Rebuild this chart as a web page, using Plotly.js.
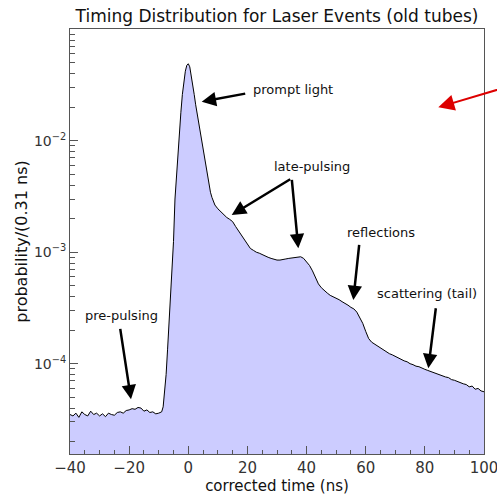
<!DOCTYPE html>
<html>
<head>
<meta charset="utf-8">
<script src="https://cdn.plot.ly/plotly-3.0.1.min.js"></script>
<style>html,body{margin:0;padding:0;background:#fff;}</style>
</head>
<body>
<div id="chart" style="width:497px;height:496px;"></div>
<script>
// corrected time (ns)
const timeNs = [
  -40,-39,-38,-37,-36,-35,-34,-33,-32,-31,-30,-29,-28,-27,-26,-25,-24,-23,-22,-21,
  -20,-19,-18,-17,-16,-15,-14,-13,-12,-11,-10,-9,
  -8.5,-8,-7.5,-7,-6.5,-6,-5.5,-5,-4.5,-4,-3.5,-3,-2.5,-2,-1.5,-1,-0.5,0,
  0.5,1,1.5,2,2.5,3,3.5,4,4.5,5,5.5,6,6.5,7,7.5,8,8.5,9,
  10,11,12,13,14,15,16,17,18,19,20,21,22,23,24,25,26,27,28,29,30,
  31,32,33,34,35,36,37,38,39,40,41,42,43,44,45,46,47,48,49,50,
  51,52,53,54,55,56,57,58,59,60,61,62,63,64,65,66,67,68,69,70,
  71,72,73,74,75,76,77,78,79,80,81,82,83,84,85,86,87,88,89,90,
  91,92,93,94,95,96,97,98,99,100
];
// probability per 0.31 ns bin
const probability = [
  3.5e-5,3.4e-5,3.6e-5,3.3e-5,3.7e-5,3.5e-5,3.4e-5,3.75e-5,3.5e-5,3.6e-5,3.4e-5,3.55e-5,3.35e-5,3.6e-5,3.5e-5,3.45e-5,3.65e-5,3.7e-5,3.6e-5,3.8e-5,
  3.85e-5,3.95e-5,3.9e-5,4.05e-5,4.0e-5,3.75e-5,3.85e-5,3.65e-5,3.7e-5,3.55e-5,3.6e-5,3.7e-5,
  4.1e-5,5.4e-5,8.0e-5,1.35e-4,2.35e-4,3.9e-4,6.8e-4,1.25e-3,3.0e-3,5.0e-3,7.6e-3,1.15e-2,1.8e-2,2.6e-2,3.5e-2,4.2e-2,4.75e-2,4.9e-2,
  4.6e-2,3.9e-2,3.3e-2,2.6e-2,2.1e-2,1.75e-2,1.5e-2,1.25e-2,1.03e-2,8.5e-3,7.0e-3,5.7e-3,4.7e-3,3.9e-3,3.45e-3,3.1e-3,2.85e-3,2.65e-3,
  2.45e-3,2.3e-3,2.15e-3,2.05e-3,1.97e-3,1.88e-3,1.7e-3,1.55e-3,1.4e-3,1.28e-3,1.16e-3,1.08e-3,1.04e-3,1.0e-3,9.8e-4,9.5e-4,9.2e-4,9.0e-4,8.8e-4,8.6e-4,8.5e-4,
  8.5e-4,8.55e-4,8.7e-4,8.8e-4,8.9e-4,9.0e-4,9.1e-4,9.1e-4,8.8e-4,8.2e-4,7.6e-4,6.8e-4,5.9e-4,5.2e-4,4.8e-4,4.5e-4,4.3e-4,4.1e-4,4.0e-4,3.85e-4,
  3.75e-4,3.6e-4,3.5e-4,3.35e-4,3.2e-4,3.1e-4,2.9e-4,2.6e-4,2.3e-4,1.95e-4,1.68e-4,1.56e-4,1.5e-4,1.42e-4,1.37e-4,1.32e-4,1.27e-4,1.23e-4,1.2e-4,1.16e-4,
  1.13e-4,1.1e-4,1.06e-4,1.04e-4,1.0e-4,9.8e-5,9.5e-5,9.4e-5,9.1e-5,8.9e-5,8.7e-5,8.5e-5,8.4e-5,8.1e-5,7.9e-5,7.8e-5,7.6e-5,7.5e-5,7.2e-5,7.1e-5,
  6.9e-5,6.8e-5,6.6e-5,6.5e-5,6.2e-5,6.3e-5,5.9e-5,6.0e-5,5.7e-5,5.6e-5
];

const xTickVals = [-40,-20,0,20,40,60,80,100];
const yTickVals = [1e-4,1e-3,1e-2];
const yTickText = ['10<sup>\u22124</sup>','10<sup>\u22123</sup>','10<sup>\u22122</sup>'];
const yMinorVals = [2e-5,3e-5,4e-5,5e-5,6e-5,7e-5,8e-5,9e-5,
                    2e-4,3e-4,4e-4,5e-4,6e-4,7e-4,8e-4,9e-4,
                    2e-3,3e-3,4e-3,5e-3,6e-3,7e-3,8e-3,9e-3,
                    2e-2,3e-2,4e-2,5e-2,6e-2,7e-2,8e-2,9e-2];

const labels = ['prompt light','late-pulsing','reflections','scattering (tail)','pre-pulsing'];

const FONT = 'DejaVu Sans, sans-serif';

const trace = {
  x: timeNs, y: probability, type: 'scatter', mode: 'lines',
  line: {color: '#000', width: 1},
  fill: 'tozeroy', fillcolor: '#ccccff',
  hoverinfo: 'skip'
};

function arrow(tx, ty, hx, hy, color, w, s) {
  return {xref:'x', yref:'y', axref:'x', ayref:'y', x:hx, y:hy, ax:tx, ay:ty,
    text:'', showarrow:true, arrowhead:2, arrowsize:s, arrowwidth:w,
    arrowcolor:color, standoff:0, startstandoff:0};
}
function label(t, x, y) {
  return {xref:'x', yref:'y', x:x, y:y, text:t, showarrow:false,
    font:{family:FONT, size:13, color:'#111'}, xanchor:'center', yanchor:'middle'};
}

const annotations = [
  label(labels[0], 35.25, -1.545),
  label(labels[1], 41.74, -2.233),
  label(labels[2], 65.1, -2.819),
  label(labels[3], 80.8, -3.369),
  label(labels[4], -22.65, -3.570),
  arrow(19.76, -1.575, 4.54, -1.650, '#000', 2.5, 1.15),
  arrow(34.97, -2.337, 14.68, -2.666, '#000', 2.5, 1.15),
  arrow(34.97, -2.337, 37.21, -2.965, '#000', 2.5, 1.15),
  arrow(57.84, -2.920, 55.81, -3.429, '#000', 2.5, 1.15),
  arrow(83.77, -3.489, 81.17, -4.041, '#000', 2.5, 1.15),
  arrow(-23.09, -3.674, -19.37, -4.319, '#000', 2.5, 1.15),
  arrow(112.18, -1.483, 84.55, -1.700, '#dd0000', 2, 1.6)
];

const layout = {
  width: 497, height: 496,
  margin: {l:70, r:13, t:29, b:42, pad:0},
  paper_bgcolor: '#fff', plot_bgcolor: '#fff',
  showlegend: false,
  font: {family: FONT, color: '#222'},
  title: {text: 'Timing Distribution for Laser Events (old tubes)',
    font: {family: FONT, size: 17, color: '#111'},
    x: 0.5, xref: 'paper', xanchor: 'center',
    y: 0.968, yref: 'container', yanchor: 'middle'},
  xaxis: {
    range: [-40, 100], showgrid: false, zeroline: false,
    showline: true, linecolor: '#555', linewidth: 1, mirror: true,
    ticks: 'inside', ticklen: 8, tickcolor: '#555', tickwidth: 1,
    tickmode: 'array', tickvals: xTickVals, ticklabeloverflow: 'allow',
    tickfont: {family: FONT, size: 15, color: '#333'},
    minor: {dtick: 5, tick0: 0, ticks: 'inside', ticklen: 4, tickcolor: '#555', showgrid: false},
    title: {text: 'corrected time (ns)', font: {family: FONT, size: 15, color: '#111'}, standoff: 4}
  },
  yaxis: {
    type: 'log', range: [-4.81, -0.998], showgrid: false, zeroline: false,
    showline: true, linecolor: '#555', linewidth: 1, mirror: true,
    ticks: 'inside', ticklen: 8, tickcolor: '#555', tickwidth: 1,
    tickmode: 'array', tickvals: yTickVals, ticktext: yTickText,
    tickfont: {family: FONT, size: 14, color: '#333'},
    minor: {tickmode: 'array', tickvals: yMinorVals, ticks: 'inside', ticklen: 5, tickcolor: '#555', showgrid: false},
    title: {text: 'probability/(0.31 ns)', font: {family: FONT, size: 16, color: '#111'}, standoff: 2}
  },
  annotations: annotations
};

Plotly.newPlot('chart', [trace], layout, {displayModeBar: false, staticPlot: true});
</script>
</body>
</html>
